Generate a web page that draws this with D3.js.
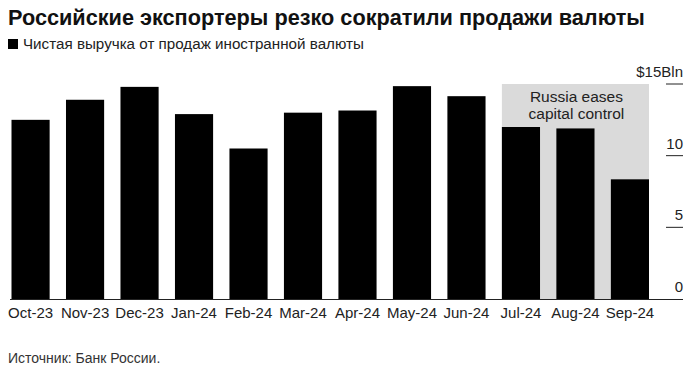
<!DOCTYPE html>
<html>
<head>
<meta charset="utf-8">
<script src="https://cdn.jsdelivr.net/npm/d3@7"></script>
<style>
  body { margin: 0; background: #fff; }
  svg { font-family: "Liberation Sans", Arial, sans-serif; }
</style>
</head>
<body>
<svg id="chart" width="700" height="381"></svg>
<script>
// chart data
const months = ["Oct-23", "Nov-23", "Dec-23", "Jan-24", "Feb-24", "Mar-24",
  "Apr-24", "May-24", "Jun-24", "Jul-24", "Aug-24", "Sep-24"];
const netSales = [12.5, 13.9, 14.8, 12.9, 10.5, 13.0, 13.15, 14.85, 14.15, 12.0, 11.9, 8.35];
const yTicks = [0, 5, 10, 15];
const shadedMonths = ["Jul-24", "Sep-24"];
const noteLines = ["Russia eases", "capital control"];

const svg = d3.select("#chart");

// title, legend and source
svg.append("text")
  .attr("x", 8).attr("y", 25)
  .attr("font-size", 21.7).attr("font-weight", "bold").attr("fill", "#111")
  .text("Российские экспортеры резко сократили продажи валюты");

svg.append("rect")
  .attr("x", 8).attr("y", 39).attr("width", 10).attr("height", 10)
  .attr("fill", "#000");
svg.append("text")
  .attr("x", 23).attr("y", 49)
  .attr("font-size", 15.2).attr("fill", "#222")
  .text("Чистая выручка от продаж иностранной валюты");

svg.append("text")
  .attr("x", 8).attr("y", 363)
  .attr("font-size", 14).attr("fill", "#333")
  .text("Источник: Банк России.");

// scales
const x = d3.scaleBand()
  .domain(months)
  .range([11.5, 649])
  .paddingInner(0.3)
  .paddingOuter(0);

const y = d3.scaleLinear()
  .domain([0, 15])
  .range([299, 84]);

// shaded period
const x0 = x(shadedMonths[0]);
const x1 = x(shadedMonths[1]) + x.bandwidth();
svg.append("rect")
  .attr("x", x0).attr("y", y(15))
  .attr("width", x1 - x0).attr("height", y(0) - y(15))
  .attr("fill", "#dadada");

svg.append("g")
  .selectAll("text")
  .data(noteLines)
  .join("text")
  .attr("x", (x0 + x1) / 2 + 1)
  .attr("y", (d, i) => 102 + i * 17)
  .attr("text-anchor", "middle")
  .attr("font-size", 15.5).attr("fill", "#222")
  .text(d => d);

// bars
svg.append("g")
  .selectAll("rect")
  .data(netSales)
  .join("rect")
  .attr("x", (d, i) => x(months[i]))
  .attr("y", d => y(d))
  .attr("width", x.bandwidth())
  .attr("height", d => y(0) - y(d))
  .attr("fill", "#000");

// right axis: short ticks with labels sitting above them
const yAxis = svg.append("g");
yAxis.selectAll("line")
  .data(yTicks.filter(d => d > 0))
  .join("line")
  .attr("x1", 666).attr("x2", 683)
  .attr("y1", d => y(d)).attr("y2", d => y(d))
  .attr("stroke", "#222").attr("stroke-width", 1);

yAxis.selectAll("text")
  .data(yTicks)
  .join("text")
  .attr("x", 683)
  .attr("y", d => y(d) - 7)
  .attr("text-anchor", "end")
  .attr("font-size", 15).attr("fill", "#222")
  .text(d => d === 15 ? "$15Bln" : d);

// baseline
svg.append("line")
  .attr("x1", 10).attr("x2", 683)
  .attr("y1", y(0) + 0.5).attr("y2", y(0) + 0.5)
  .attr("stroke", "#222").attr("stroke-width", 1);

// month labels
const xAxis = d3.axisBottom(x).tickSize(0).tickPadding(8);
svg.append("g")
  .attr("transform", `translate(0,${y(0)})`)
  .call(xAxis)
  .call(g => g.select(".domain").remove())
  .call(g => g.selectAll("text")
    .attr("font-size", 15)
    .attr("font-family", "Liberation Sans, Arial, sans-serif")
    .attr("fill", "#222"));
</script>
</body>
</html>
